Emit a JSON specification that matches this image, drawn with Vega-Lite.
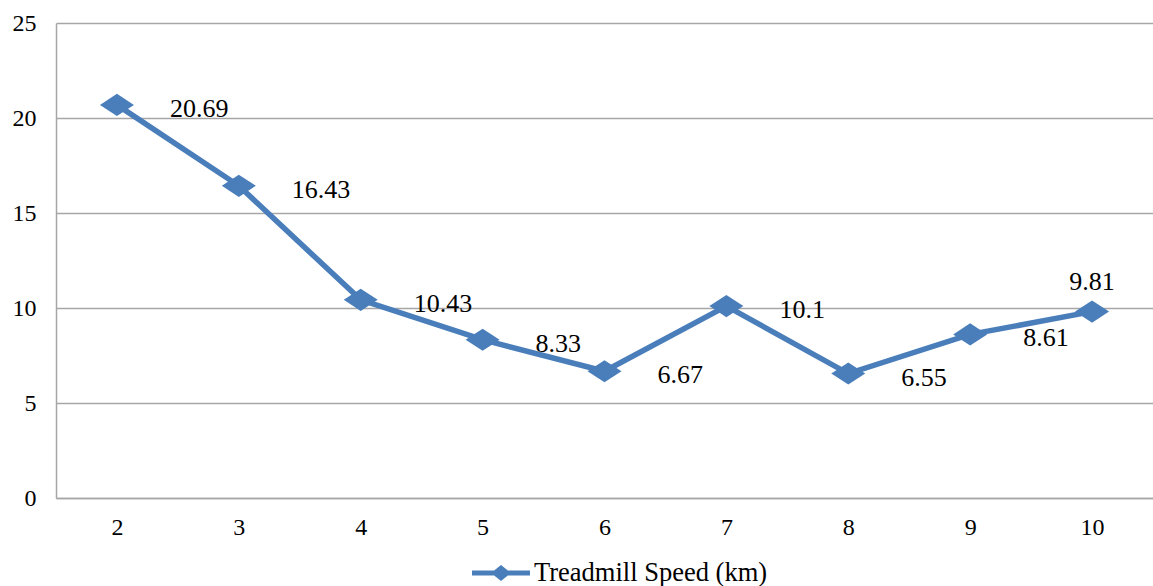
{
  "$schema": "https://vega.github.io/schema/vega-lite/v6.json",
  "width": 1097,
  "height": 475,
  "autosize": {"type": "none"},
  "padding": {"left": 56, "top": 23, "right": 0, "bottom": 88},
  "background": "white",
  "config": {
    "view": {"stroke": null},
    "font": "Liberation Serif, Times New Roman, serif",
    "axis": {"labelFont": "Liberation Serif, Times New Roman, serif", "labelColor": "#000000", "ticks": false, "domainColor": "#a6a6a6", "domainWidth": 1.5, "gridColor": "#a6a6a6", "gridWidth": 1.5}
  },
  "data": {
    "values": [
      {"km": 2, "speed": 20.69},
      {"km": 3, "speed": 16.43},
      {"km": 4, "speed": 10.43},
      {"km": 5, "speed": 8.33},
      {"km": 6, "speed": 6.67},
      {"km": 7, "speed": 10.1},
      {"km": 8, "speed": 6.55},
      {"km": 9, "speed": 8.61},
      {"km": 10, "speed": 9.81}
    ]
  },
  "encoding": {
    "x": {"field": "km", "type": "ordinal", "scale": {"type": "point", "padding": 0.5},
      "axis": {"title": null, "labelAngle": 0, "labelFontSize": 24, "labelPadding": 17, "labelDx": 3, "grid": false}},
    "y": {"field": "speed", "type": "quantitative", "scale": {"domain": [0, 25]},
      "axis": {"title": null, "values": [0, 5, 10, 15, 20, 25], "labelFontSize": 24, "labelPadding": 20, "grid": true}}
  },
  "layer": [
    {"mark": {"type": "line", "color": "#4a7ebb", "strokeWidth": 5.5}},
    {"mark": {"type": "point", "filled": true, "opacity": 1, "shape": "M-1,0L0,-0.65L1,0L0,0.65Z", "size": 1156},
     "encoding": {"color": {"datum": "Treadmill Speed (km)", "scale": {"range": ["#4a7ebb"]},
       "legend": {"title": null, "orient": "none", "legendX": 416, "legendY": 521,
         "symbolType": "M-1,-0.086H-0.236L0,-0.28L0.236,-0.086H1V0.086H0.236L0,0.28L-0.236,0.086H-1Z",
         "symbolSize": 3364, "symbolStrokeWidth": 0, "labelFont": "Liberation Serif, Times New Roman, serif", "labelFontSize": 26.5, "labelLimit": 400, "labelColor": "#000000", "labelOffset": 4}}}},
    {"transform": [{"filter": "datum.km != 10"}],
     "mark": {"type": "text", "align": "left", "baseline": "middle", "dx": 53, "dy": 4, "fontSize": 26, "font": "Liberation Serif, Times New Roman, serif", "color": "#000000"},
     "encoding": {"text": {"field": "speed", "type": "quantitative"}}},
    {"transform": [{"filter": "datum.km == 10"}],
     "mark": {"type": "text", "align": "center", "baseline": "middle", "dy": -30, "fontSize": 26, "font": "Liberation Serif, Times New Roman, serif", "color": "#000000"},
     "encoding": {"text": {"field": "speed", "type": "quantitative"}}}
  ]
}
